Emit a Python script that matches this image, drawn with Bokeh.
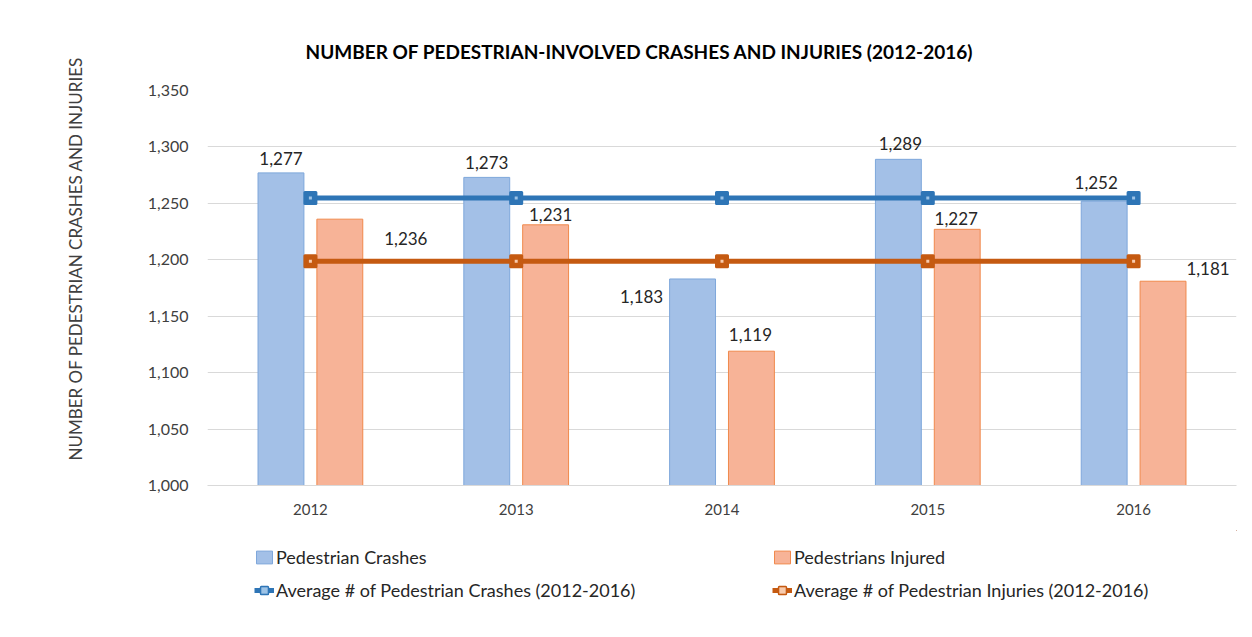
from bokeh.plotting import figure
from bokeh.layouts import column
from bokeh.models import (ColumnDataSource, FixedTicker, Legend, LegendItem,
                          NumeralTickFormatter, Range1d, Title)
from bokeh.core.properties import value
from bokeh.embed import file_html
from bokeh.resources import INLINE

years = ["2012", "2013", "2014", "2015", "2016"]
crashes = [1277, 1273, 1183, 1289, 1252]
injured = [1236, 1231, 1119, 1227, 1181]
avg_crashes = [1254.8, 1254.8, 1254.8, 1254.8, 1254.8]
avg_injured = [1198.8, 1198.8, 1198.8, 1198.8, 1198.8]
y_ticks = [1000, 1050, 1100, 1150, 1200, 1250, 1300, 1350]

# label placement styling (pixels): x shift, upward shift of label centre from bar top
crash_lbl_dx = [0, 0, -51, 2, -8]
crash_lbl_dy = [14, 15, -17.5, 16, 18.5]
inj_lbl_dx = [66, 5, -1, -1, 45]
inj_lbl_dy = [-19.5, 10.5, 16.5, 11, 12.5]

FONT = "Lato"
W, H = 1244, 530
LEFT, RIGHT, TOP, BOTTOM = 207, 8, 90, 45
PX_X = (W - LEFT - RIGHT) / 5.0      # pixels per category
PX_Y = (H - TOP - BOTTOM) / 350.0    # pixels per unit

xs = list(range(len(years)))
src = ColumnDataSource(dict(
    x=xs,
    xc=[x - 0.143 for x in xs],
    xi=[x + 0.143 for x in xs],
    crashes=crashes,
    injured=injured,
    avg_c=avg_crashes,
    avg_i=avg_injured,
    lc=[f"{v:,}" for v in crashes],
    li=[f"{v:,}" for v in injured],
    lcx=[x - 0.143 + d / PX_X for x, d in zip(xs, crash_lbl_dx)],
    lcy=[v + d / PX_Y for v, d in zip(crashes, crash_lbl_dy)],
    lix=[x + 0.143 + d / PX_X for x, d in zip(xs, inj_lbl_dx)],
    liy=[v + d / PX_Y for v, d in zip(injured, inj_lbl_dy)],
))

p = figure(width=W, height=H, output_backend="svg", toolbar_location=None,
           x_range=Range1d(-0.5, 4.5), y_range=Range1d(1000, 1350),
           min_border_left=LEFT, min_border_right=RIGHT,
           min_border_top=TOP, min_border_bottom=BOTTOM)
p.outline_line_color = None
p.background_fill_color = "white"
p.border_fill_color = "white"

p.title = Title(text="NUMBER OF PEDESTRIAN-INVOLVED CRASHES AND INJURIES (2012-2016)",
                align="left", offset=98, standoff=56, text_font=FONT,
                text_font_style="bold", text_font_size="19px", text_color="#000000")

# axes
p.yaxis.ticker = FixedTicker(ticks=y_ticks)
p.yaxis.formatter = NumeralTickFormatter(format="0,0")
p.yaxis.axis_line_color = None
p.yaxis.major_tick_line_color = None
p.yaxis.minor_tick_line_color = None
p.yaxis.major_label_text_font = FONT
p.yaxis.major_label_text_font_size = "16px"
p.yaxis.major_label_text_color = "#404040"
p.yaxis.major_label_standoff = 13

p.add_layout(Title(text="NUMBER OF PEDESTRIAN CRASHES AND INJURIES", align="left",
                   offset=25, standoff=118, text_font=FONT, text_font_style="normal",
                   text_font_size="17px", text_color="#404040"), "left")

p.xaxis.ticker = FixedTicker(ticks=xs)
p.xaxis.major_label_overrides = {i: y for i, y in zip(xs, years)}
p.xaxis.axis_line_color = "#d9d9d9"
p.xaxis.major_tick_line_color = None
p.xaxis.minor_tick_line_color = None
p.xaxis.major_label_text_font = FONT
p.xaxis.major_label_text_font_size = "15px"
p.xaxis.major_label_text_color = "#404040"
p.xaxis.major_label_standoff = 12

p.xgrid.grid_line_color = None
p.ygrid.grid_line_color = "#d9d9d9"
p.ygrid.grid_line_width = 1

# bars
bar_c = dict(fill_color="#a3c0e7", line_color="#7ea7db", line_width=1)
bar_i = dict(fill_color="#f7b397", line_color="#f0894c", line_width=1)
p.vbar(x="xc", top="crashes", bottom=0, width=0.223, source=src, **bar_c)
p.vbar(x="xi", top="injured", bottom=0, width=0.223, source=src, **bar_i)

# average lines
line_c = dict(line_color="#2e75b6", line_width=5)
mark_c = dict(marker="square", size=11, fill_color="#2e75b6", line_color="#2e75b6",
              line_width=3, line_join="round")
dot_c = dict(marker="square", size=3, fill_color="#9dc3e6", line_color=None)
line_i = dict(line_color="#c55a11", line_width=5)
mark_i = dict(marker="square", size=11, fill_color="#c55a11", line_color="#c55a11",
              line_width=3, line_join="round")
dot_i = dict(marker="square", size=3, fill_color="#f8cbad", line_color=None)

p.line(x="x", y="avg_c", source=src, **line_c)
p.scatter(x="x", y="avg_c", source=src, **mark_c)
p.scatter(x="x", y="avg_c", source=src, **dot_c)
p.line(x="x", y="avg_i", source=src, **line_i)
p.scatter(x="x", y="avg_i", source=src, **mark_i)
p.scatter(x="x", y="avg_i", source=src, **dot_i)

# data labels
p.text(x="lcx", y="lcy", text="lc", source=src, text_align="center",
       text_baseline="middle", text_font=value(FONT), text_font_size="17px",
       text_color="#262626")
p.text(x="lix", y="liy", text="li", source=src, text_align="center",
       text_baseline="middle", text_font=value(FONT), text_font_size="17px",
       text_color="#262626")

# legend strip under the chart (its frame is aligned with the chart's frame)
LH = 99
q = figure(width=W, height=LH, output_backend="svg", toolbar_location=None,
           x_range=Range1d(0, 1), y_range=Range1d(0, 1),
           min_border_left=0, min_border_right=0, min_border_top=0, min_border_bottom=0)
q.axis.visible = False
q.grid.visible = False
q.outline_line_color = None
q.border_fill_color = "white"
# off-range proxies: they only supply the legend swatches
proxy = ColumnDataSource(dict(x=[5, 6], y=[5, 6], top=[5, 6], bottom=[4, 5]))
lb_c = q.vbar(x="x", top="top", bottom="bottom", width=0.1, source=proxy, **bar_c)
lb_i = q.vbar(x="x", top="top", bottom="bottom", width=0.1, source=proxy, **bar_i)
ll_c = [q.line(x="x", y="y", source=proxy, **line_c),
        q.scatter(x="x", y="y", source=proxy, **mark_c),
        q.scatter(x="x", y="y", source=proxy, **dot_c)]
ll_i = [q.line(x="x", y="y", source=proxy, **line_i),
        q.scatter(x="x", y="y", source=proxy, **mark_i),
        q.scatter(x="x", y="y", source=proxy, **dot_i)]

legend = Legend(items=[
    LegendItem(label="Pedestrian Crashes", renderers=[lb_c]),
    LegendItem(label="Pedestrians Injured", renderers=[lb_i]),
    LegendItem(label="Average # of Pedestrian Crashes (2012-2016)", renderers=ll_c),
    LegendItem(label="Average # of Pedestrian Injuries (2012-2016)", renderers=ll_i),
], ncols=2, orientation="horizontal", location=(47, 28),
    glyph_width=20, glyph_height=16, label_height=16, label_width=485,
    label_standoff=2, spacing=11, padding=0, margin=0,
    border_line_color=None, background_fill_alpha=0,
    label_text_font=FONT, label_text_font_size="18px", label_text_color="#262626")
q.add_layout(legend, "center")

open("out.html", "w").write(file_html(column(p, q, spacing=0), INLINE))
